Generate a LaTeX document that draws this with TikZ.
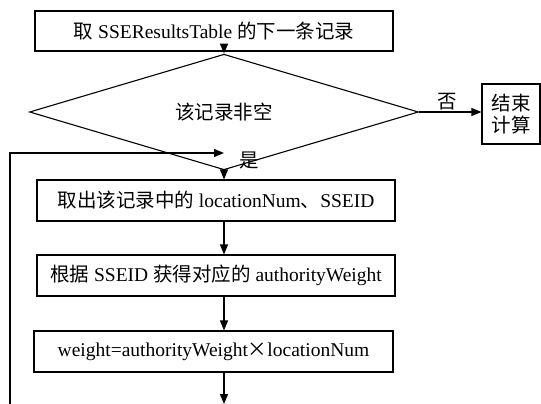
\documentclass[tikz,border=0pt]{standalone}
\usepackage{fontspec}
\setmainfont{Liberation Serif}
\newfontfamily\cjk{Noto Sans CJK SC}
\usetikzlibrary{arrows.meta,shapes.geometric}
\begin{document}
\begin{tikzpicture}[x=1pt,y=-1pt,
  every node/.style={font=\fontsize{19.5}{22}\selectfont},
  procbox/.style={draw,line width=1.1pt,rectangle,inner sep=0pt},
  decbox/.style={draw,line width=1.1pt,shape=diamond,inner sep=0pt,minimum width=389pt,minimum height=46pt},
  flow/.style={line width=1.3pt,-{Triangle[length=10pt,width=8pt]}},
  lbl/.style={inner sep=0pt}]
\useasboundingbox (0,0) rectangle (541,404);
\node[procbox,minimum width=358pt,minimum height=40pt] (b1) at (214,31) {{\cjk 取} SSEResultsTable {\cjk 的下一条记录}};
\node[decbox] (dia) at (224,112) {{\cjk 该记录非空}};
\node[procbox,minimum width=58pt,minimum height=60pt,align=left] (end) at (511,114) {{\cjk 结束}\\{\cjk 计算}};
\node[procbox,minimum width=358pt,minimum height=41pt] (b2) at (216,200.5) {{\cjk 取出该记录中的} locationNum{\cjk 、}SSEID};
\node[procbox,minimum width=358pt,minimum height=41pt] (b3) at (216,275.5) {{\cjk 根据} SSEID {\cjk 获得对应的} authorityWeight};
\node[procbox,minimum width=359pt,minimum height=41pt] (b4) at (213.5,351.5) {weight=authorityWeight{\cjk ×}locationNum};
\node[lbl] (no) at (447,102) {{\cjk 否}};
\node[lbl] (yes) at (249,160) {{\cjk 是}};
\coordinate (loopbot) at (10,404);
\coordinate (looptop) at (10,153);
\coordinate (loopend) at (224,153);
\coordinate (outend) at (224,404);
\draw[flow] (dia.north |- b1.south) -- (dia.north);
\draw[flow] (dia.east) -- (dia.east -| end.west);
\draw[flow] (dia.south) -- (dia.south |- b2.north);
\draw[flow] (loopbot) -- (looptop) -- (loopend);
\draw[flow] (dia.south |- b2.south) -- (dia.south |- b3.north);
\draw[flow] (dia.south |- b3.south) -- (dia.south |- b4.north);
\draw[flow] (dia.south |- b4.south) -- (outend);
\end{tikzpicture}
\end{document}
